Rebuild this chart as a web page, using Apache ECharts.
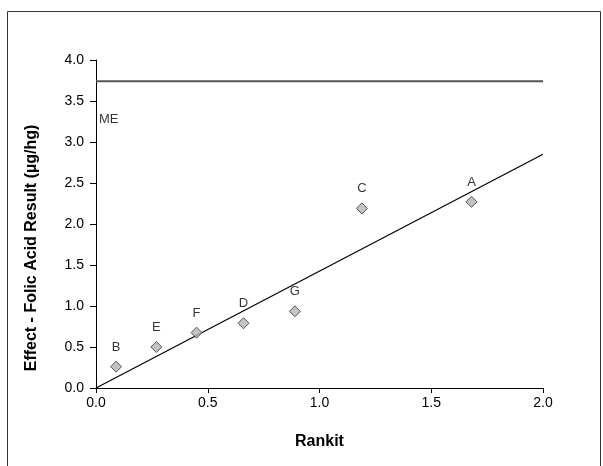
<!DOCTYPE html>
<html>
<head>
<meta charset="utf-8">
<script src="https://cdn.jsdelivr.net/npm/echarts@6/dist/echarts.min.js"></script>
<style>
html, body { margin: 0; padding: 0; background: #fff; }
#chart { width: 603px; height: 466px; }
</style>
</head>
<body>
<div id="chart"></div>
<script>
/** 数据 */
let lab_names = ["B", "E", "F", "D", "G", "C", "A"];
let rankit = [0.09, 0.27, 0.45, 0.66, 0.89, 1.19, 1.68];
let effect = [0.26, 0.5, 0.675, 0.79, 0.935, 2.19, 2.27];
let fit_line = [[0, 0], [2, 2.85]];
let me_value = 3.74;
let me_label = [[0, 3.28]];
let x_ticks = [0, 0.5, 1.0, 1.5, 2.0];
let y_ticks = [0, 0.5, 1.0, 1.5, 2.0, 2.5, 3.0, 3.5, 4.0];

let chart = echarts.init(document.getElementById("chart"));
let font = "Liberation Sans, Arial, sans-serif";

let points = rankit.map(function (x, i) {
	return { name: lab_names[i], value: [x, effect[i]] };
});

let option = {
	animation: false,
	textStyle: { fontFamily: font },
	grid: {
		left: 96,
		right: 60,
		top: 60,
		bottom: 78,
	},
	xAxis: {
		type: "value",
		min: x_ticks[0],
		max: x_ticks[x_ticks.length - 1],
		interval: 0.5,
		name: "Rankit",
		nameLocation: "middle",
		nameGap: 46,
		nameTextStyle: { fontSize: 16, fontWeight: "bold", color: "#000", fontFamily: font },
		axisLine: { lineStyle: { color: "#000", width: 1 } },
		axisTick: { length: 5, lineStyle: { color: "#000" } },
		axisLabel: {
			color: "#000",
			fontSize: 14,
			margin: 8,
			formatter: function (v) { return v.toFixed(1); },
		},
		splitLine: { show: false },
	},
	yAxis: {
		type: "value",
		min: y_ticks[0],
		max: y_ticks[y_ticks.length - 1],
		interval: 0.5,
		axisLine: { show: true, lineStyle: { color: "#000", width: 1 } },
		axisTick: { show: true, length: 6, lineStyle: { color: "#000" } },
		axisLabel: {
			color: "#000",
			fontSize: 14,
			margin: 12,
			formatter: function (v) { return v.toFixed(1); },
		},
		splitLine: { show: false },
	},
	graphic: [
		{
			// 外框
			type: "rect",
			shape: { x: 7.5, y: 11.5, width: 593, height: 470 },
			style: { fill: "none", stroke: "#333", lineWidth: 1 },
			silent: true,
		},
		{
			// 纵轴标题
			type: "text",
			x: 32,
			y: 248,
			rotation: Math.PI / 2,
			style: {
				text: "Effect - Folic Acid Result (µg/hg)",
				font: "bold 16px " + font,
				fill: "#000",
				align: "center",
				verticalAlign: "middle",
			},
			silent: true,
		},
	],
	series: [
		{
			// ME 水平线
			type: "line",
			data: [[0, me_value], [2, me_value]],
			symbol: "none",
			lineStyle: { color: "#555", width: 2 },
			z: 1,
		},
		{
			// ME 标签
			type: "scatter",
			data: me_label,
			symbolSize: 0,
			label: {
				show: true,
				position: "right",
				distance: 3,
				formatter: "ME",
				color: "#000",
				fontSize: 13,
			},
			z: 1,
		},
		{
			// 拟合线
			type: "line",
			data: fit_line,
			symbol: "none",
			lineStyle: { color: "#000", width: 1.2 },
			z: 2,
		},
		{
			type: "scatter",
			data: points,
			symbol: "diamond",
			symbolSize: 11,
			itemStyle: { color: "#b4b4b4", borderColor: "#333", borderWidth: 1 },
			label: {
				show: true,
				position: "top",
				distance: 7,
				formatter: "{b}",
				color: "#000",
				fontSize: 13,
			},
			z: 3,
		},
	],
};
chart.setOption(option);
</script>
</body>
</html>
